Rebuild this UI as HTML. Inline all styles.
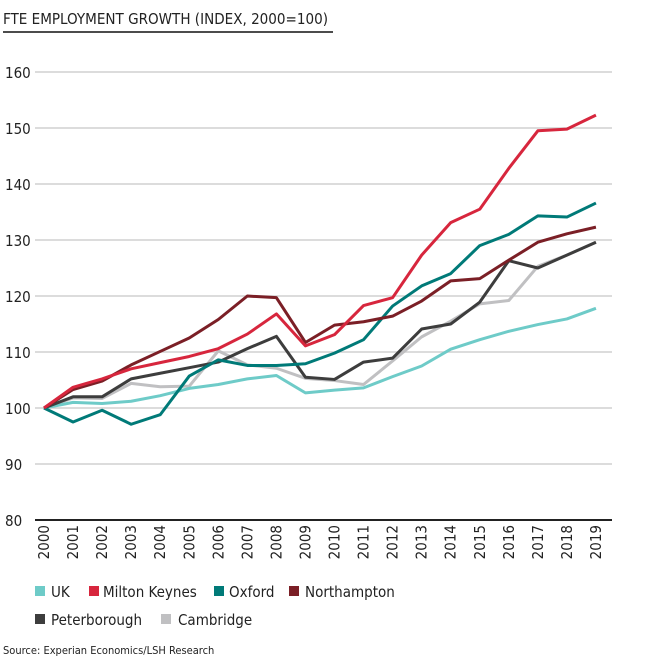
<!DOCTYPE html>
<html><head><meta charset="utf-8"><style>
body{margin:0;background:#fff;width:648px;height:665px;overflow:hidden;font-family:"DejaVu Sans Condensed","Liberation Sans Narrow","Liberation Sans",sans-serif;}
svg text{font-family:"DejaVu Sans Condensed","Liberation Sans",sans-serif;}
</style></head><body>
<svg id="s" width="648" height="665" xmlns="http://www.w3.org/2000/svg">
<text x="3" y="24" font-size="15" fill="#222" textLength="325" lengthAdjust="spacingAndGlyphs">FTE EMPLOYMENT GROWTH (INDEX, 2000=100)</text>
<line x1="3" y1="32" x2="333" y2="32" stroke="#111" stroke-width="1.5"/>
<g id="grid"></g>
<g id="lines" fill="none" stroke-width="3" stroke-linejoin="round"></g>
<g font-size="15" fill="#222">
<rect x="35" y="586" width="10" height="10" fill="#6ecbc8"/><text x="51" y="597">UK</text>
<rect x="89" y="586" width="10" height="10" fill="#d7263d"/><text x="103" y="597">Milton Keynes</text>
<rect x="214" y="586" width="10" height="10" fill="#007a78"/><text x="229" y="597">Oxford</text>
<rect x="289" y="586" width="10" height="10" fill="#7b1f26"/><text x="305" y="597">Northampton</text>
<rect x="35" y="614" width="10" height="10" fill="#3d3d3d"/><text x="51" y="625">Peterborough</text>
<rect x="161" y="614" width="10" height="10" fill="#c0c0c2"/><text x="178" y="625">Cambridge</text>
</g>
<text x="3" y="654" font-size="11" fill="#222">Source: Experian Economics/LSH Research</text>
</svg>
<script>
var NS="http://www.w3.org/2000/svg",g=document.getElementById('grid'),L=document.getElementById('lines');
function Y(v){return 408-(v-100)*5.6;}function X(i){return 44+i*29.05;}
function el(p,t,a,txt){var e=document.createElementNS(NS,t);for(var k in a)e.setAttribute(k,a[k]);if(txt)e.textContent=txt;p.appendChild(e);return e;}
for(var v=90;v<=160;v+=10){el(g,'line',{x1:35,x2:612,y1:Y(v),y2:Y(v),stroke:'#d0d0d0','stroke-width':1.5});}
for(var v=80;v<=160;v+=10){el(g,'text',{x:5,y:Y(v)+6,'font-size':15,fill:'#222'},''+v);}
for(var i=0;i<20;i++){var x=X(i)+5;el(g,'text',{x:0,y:0,'font-size':15,fill:'#222','text-anchor':'end',transform:'translate('+x+',525) rotate(-90)'},''+(2000+i));}
var D=[
['#c0c0c2',[100,101.8,101.7,104.4,103.8,103.9,110.2,107.7,107.1,105.3,104.9,104.2,108.4,112.7,115.5,118.6,119.2,125.3,127.3,129.6]],
['#6ecbc8',[100,101,100.8,101.2,102.2,103.5,104.2,105.2,105.8,102.7,103.2,103.6,105.6,107.5,110.5,112.2,113.7,114.9,115.9,117.8]],
['#3d3d3d',[100,102,102,105.2,106.2,107.2,108.2,110.6,112.8,105.5,105.1,108.2,108.9,114.1,115,118.9,126.3,125,127.3,129.6]],
['#007a78',[100,97.5,99.6,97.1,98.8,105.7,108.6,107.6,107.6,107.9,109.8,112.2,118.2,121.8,124,129,131,134.3,134.1,136.6]],
['#7b1f26',[100,103.3,104.8,107.7,110.1,112.5,115.8,120,119.7,111.7,114.8,115.4,116.4,119.1,122.7,123.1,126.4,129.6,131.1,132.3]],
['#d7263d',[100,103.7,105.2,107,108.1,109.2,110.6,113.2,116.8,111.1,113.1,118.3,119.7,127.3,133.1,135.5,142.8,149.5,149.8,152.3]]];
D.forEach(function(d){el(L,'polyline',{stroke:d[0],points:d[1].map(function(v,i){return X(i)+','+Y(v);}).join(' ')});});
el(g,'line',{x1:35,x2:612,y1:520,y2:520,stroke:'#222','stroke-width':2});
</script>
</body></html>
